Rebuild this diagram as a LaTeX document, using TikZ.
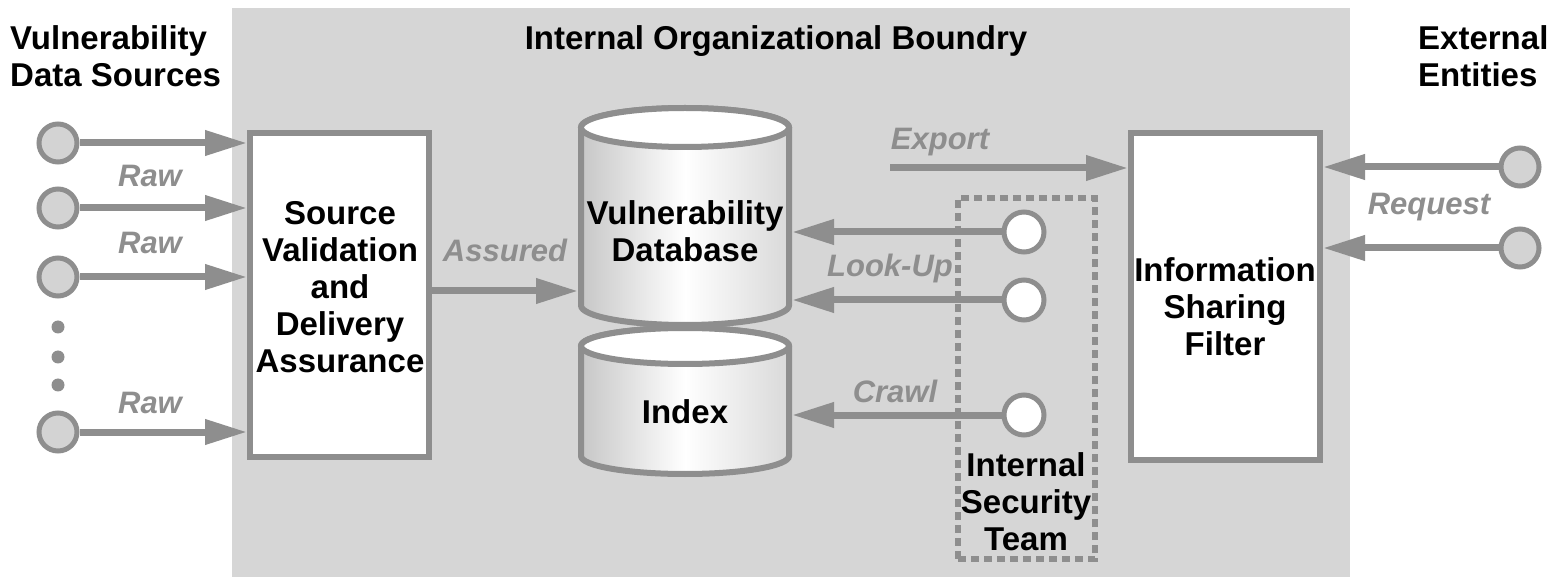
\documentclass[tikz,border=0pt]{standalone}
\usepackage{fontspec}
\setmainfont{Liberation Sans}
\usetikzlibrary{arrows.meta}

\definecolor{bgray}{HTML}{D6D6D6}
\definecolor{lgray}{HTML}{8E8E8E}
\definecolor{srcfill}{HTML}{D3D3D3}

% cylinder: centre x, top ellipse y, bottom ellipse y, x radius, y radius
\newcommand\drawcyl[5]{%
  \path[draw=lgray, line width=6pt, left color=black!22, right color=black!15, middle color=white]
    (#1-#4,#2) -- (#1-#4,#3)
    arc[start angle=180, end angle=360, x radius=#4pt, y radius=#5pt]
    -- (#1+#4,#2)
    arc[start angle=0, end angle=180, x radius=#4pt, y radius=#5pt] -- cycle;
  \path[draw=lgray, line width=6pt, fill=white] (#1,#2) ellipse[x radius=#4pt, y radius=#5pt];
}

\begin{document}
\begin{tikzpicture}[x=1pt, y=-1pt,
  arr/.style={draw=lgray, line width=7pt, -{Triangle[length=42pt,width=24pt]}},
  lbl/.style={text=lgray, inner sep=0pt, font=\fontsize{31}{34}\selectfont\bfseries\itshape},
  txt/.style={inner sep=0pt, align=center, font=\fontsize{33}{37}\selectfont\bfseries},
  procbox/.style={draw=lgray, line width=6pt, fill=white, rectangle, inner sep=0pt},
  src/.style={circle, draw=lgray, line width=5pt, fill=srcfill, minimum size=38pt, inner sep=0pt},
  member/.style={src, fill=white, minimum size=40pt},
  dotmark/.style={circle, fill=lgray, minimum size=13pt, inner sep=0pt},
  teambox/.style={draw=lgray, line width=6pt, dash pattern=on 8pt off 5pt, rectangle, inner sep=0pt},
  region/.style={rectangle, inner sep=0pt, outer sep=0pt}]

\useasboundingbox (0,0) rectangle (1559,577);
\fill[white] (0,0) rectangle (1559,577);

% organisational boundary
\fill[bgray] (232,8) rectangle (1350,577);

% headings
\node[txt, align=left, anchor=north west] (hsrc) at (10,25) {Vulnerability\\Data Sources};
\node[txt, anchor=north] (horg) at (776,25) {Internal Organizational Boundry};
\node[txt, align=left, anchor=north west] (hext) at (1418,25) {External\\Entities};

% source validation box
\node[procbox, minimum width=179pt, minimum height=324pt] (sv) at (339.5,295) {};
\node[txt] (svtext) at (340,287) {Source\\Validation\\and\\Delivery\\Assurance};

% data sources
\node[src] (s1) at (58,143) {};
\node[src] (s2) at (58,208) {};
\node[src] (s3) at (58,277) {};
\node[src] (s4) at (58,432) {};
\node[dotmark] (d1) at (58,327) {};
\node[dotmark] (d2) at (58,357) {};
\node[dotmark] (d3) at (58,385) {};

\foreach \s in {s1,s2,s3,s4}
  \draw[arr] (\s) -- (\s -| sv.west);

\node[lbl] (raw1) at (150,176) {Raw};
\node[lbl] (raw2) at (150,243) {Raw};
\node[lbl] (raw3) at (150,403) {Raw};

% databases (index first, database on top)
\node[region, minimum width=214pt, minimum height=152pt] (ix) at (685,401) {};
\drawcyl{685}{346}{456}{104}{18}
\node[region, minimum width=214pt, minimum height=223pt] (db) at (685,216.5) {};
\drawcyl{685}{127.5}{305.5}{104}{19.5}
\node[txt] (dbtext) at (685,231) {Vulnerability\\Database};
\node[txt] (ixtext) at (685,412) {Index};

% assured feed
\coordinate (ay) at (0,291);
\draw[arr] (sv.east |- ay) -- (db.west |- ay);
\node[lbl] (assured) at (505,250) {Assured};

% internal security team
\node[teambox, minimum width=137pt, minimum height=361pt] (team) at (1026.5,378.5) {};
\node[txt] (teamtext) at (1026,502) {Internal\\Security\\Team};
\node[member] (t1) at (1024,232) {};
\node[member] (t2) at (1024,300) {};
\node[member] (t3) at (1024,415) {};
\draw[arr] (t1) -- (t1 -| db.east);
\draw[arr] (t2) -- (t2 -| db.east);
\draw[arr] (t3) -- (t3 -| ix.east);
\node[lbl] (lookup) at (890,268) {Look-Up};
\node[lbl] (crawl) at (895,391) {Crawl};

% information sharing filter
\node[procbox, minimum width=189pt, minimum height=327pt] (fb) at (1225.5,296.5) {};
\node[txt] (fbtext) at (1225,307) {Information\\Sharing\\Filter};

% export
\coordinate (ex) at (890,168);
\draw[arr] (ex) -- (ex -| fb.west);
\node[lbl] (export) at (940,142) {Export};

% external entities
\node[src] (e1) at (1520,167) {};
\node[src] (e2) at (1520,248) {};
\draw[arr] (e1) -- (e1 -| fb.east);
\draw[arr] (e2) -- (e2 -| fb.east);
\node[lbl] (request) at (1429,207) {Request};

\end{tikzpicture}
\end{document}
